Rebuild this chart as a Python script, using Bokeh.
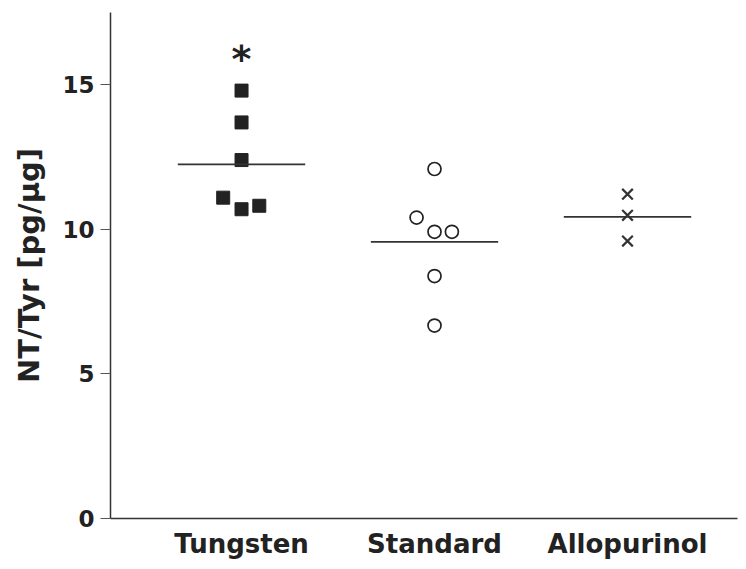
import numpy as np
from bokeh.plotting import figure
from bokeh.models import Range1d, FixedTicker
from bokeh.core.properties import value
from bokeh.embed import file_html
from bokeh.resources import INLINE

# ---- data ----
categories = ["Tungsten", "Standard", "Allopurinol"]
tungsten = [14.79, 13.69, 12.39, 11.09, 10.69, 10.81]
tungsten_jitter = [0.0, 0.0, 0.0, -0.095, 0.0, 0.092]
standard = [12.08, 10.40, 9.91, 9.91, 8.38, 6.67]
standard_jitter = [0.0, -0.093, 0.0, 0.09, 0.0, 0.0]
allopurinol = [11.21, 10.48, 9.59]
allopurinol_jitter = [0.0, 0.0, 0.0]
y_ticks = [0, 5, 10, 15]
significance_label = "*"
significance_y = 16.06

FONT = "DejaVu Sans"
INK = "#222222"

p = figure(width=738, height=561, output_backend="svg", toolbar_location=None,
           x_range=Range1d(0.321, 3.57), y_range=Range1d(0, 17.49),
           min_border_left=110, min_border_top=12, min_border_right=1, min_border_bottom=43)
p.outline_line_color = None
p.grid.grid_line_color = None
p.background_fill_color = "white"

groups = [(1, tungsten, tungsten_jitter), (2, standard, standard_jitter), (3, allopurinol, allopurinol_jitter)]

def xs(g, jit):
    return [g + j for j in jit]

p.scatter(xs(1, tungsten_jitter), tungsten, marker="square", size=13,
          fill_color=INK, line_color=INK, line_width=1)
p.scatter(xs(2, standard_jitter), standard, marker="circle", size=13,
          fill_color="white", line_color=INK, line_width=1.7)
p.scatter(xs(3, allopurinol_jitter), allopurinol, marker="x", size=15,
          line_color="#333333", line_width=2.2)

# mean lines
half = 0.33
means = [float(np.mean(v)) for _, v, _ in groups]
centers = [g for g, _, _ in groups]
p.segment(x0=[c - half for c in centers], y0=means, x1=[c + half for c in centers], y1=means,
          line_color="#333333", line_width=1.7)

# significance asterisk
p.text(x=[1], y=[significance_y], text=[significance_label], text_font=value(FONT),
       text_font_style="bold", text_font_size="38px", text_align="center",
       text_baseline="middle", text_color=INK, y_offset=5)

# axes
p.xaxis.ticker = FixedTicker(ticks=centers)
p.xaxis.major_label_overrides = {c: n for c, n in zip(centers, categories)}
p.xaxis.major_tick_line_color = None
p.xaxis.major_tick_out = 0
p.xaxis.major_tick_in = 0
p.xaxis.minor_tick_line_color = None
p.xaxis.minor_tick_out = 0
p.xaxis.major_label_text_font = FONT
p.xaxis.major_label_text_font_style = "bold"
p.xaxis.major_label_text_font_size = "26px"
p.xaxis.major_label_text_color = INK
p.xaxis.major_label_standoff = 10
p.xaxis.axis_line_color = "#333333"
p.xaxis.axis_line_width = 1.5

p.yaxis.ticker = FixedTicker(ticks=y_ticks)
p.yaxis.minor_tick_line_color = None
p.yaxis.major_tick_out = 10
p.yaxis.major_tick_in = 0
p.yaxis.major_tick_line_color = "#555555"
p.yaxis.major_tick_line_width = 1
p.yaxis.major_label_text_font = FONT
p.yaxis.major_label_text_font_style = "bold"
p.yaxis.major_label_text_font_size = "23px"
p.yaxis.major_label_text_color = INK
p.yaxis.major_label_standoff = 6
p.yaxis.axis_line_color = "#333333"
p.yaxis.axis_line_width = 1.5
p.yaxis.axis_label = "NT/Tyr [pg/\u00b5g]"
p.yaxis.axis_label_text_font = FONT
p.yaxis.axis_label_text_font_style = "bold"
p.yaxis.axis_label_text_font_size = "29px"
p.yaxis.axis_label_text_color = INK
p.yaxis.axis_label_standoff = 13

open("out.html", "w").write(file_html(p, INLINE))
